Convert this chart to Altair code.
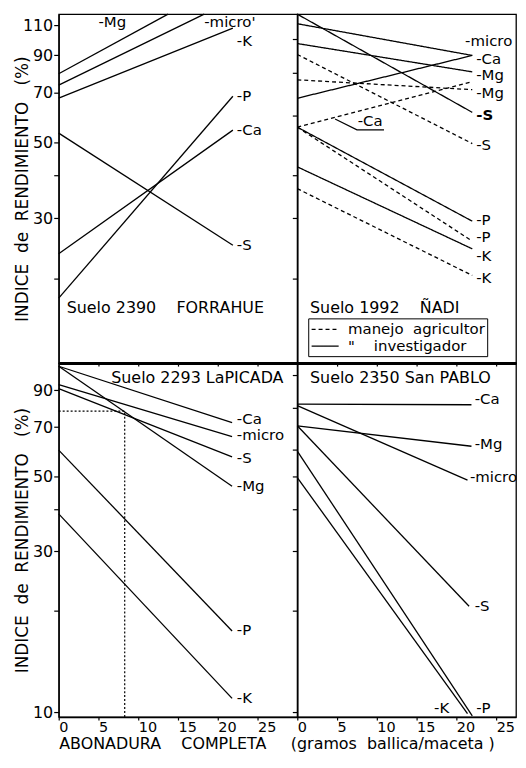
import altair as alt
import pandas as pd

FONT = "DejaVu Sans"
NB = "\u00a0"

# ---------------- Suelo 2390 FORRAHUE (top left) ----------------
f_series = ["Mg", "micro", "K", "P", "Ca", "S"]
f_start = [79.4, 73.5, 67.4, 17.5, 23.6, 53.2]
f_end = [118.6, 118.6, 108.0, 68.2, 54.3, 25.0]     # Mg and micro run off the top edge
f_xend = [13.75, 18.3, 21.9, 21.9, 21.9, 21.9]
f_lab_t = ["-Mg", "-micro'", "-K", "-P", "-Ca", "-S"]
f_lab_x = [5.0, 18.3, 22.4, 22.4, 22.4, 22.4]
f_lab_v = [118, 118, 99, 68.2, 54.3, 25.0]
f_lab_b = ["top", "top", "middle", "middle", "middle", "middle"]

# ---------------- Suelo 1992 ÑADI (top right) ----------------
n_series = ["micro", "Ca", "Mg", "S", "P", "K", "Mg", "S", "Ca", "P", "K"]
n_manejo = ["investigador"] * 6 + ["agricultor"] * 5
n_start = [111.2, 67.3, 97.3, 118.6, 55.4, 42.4, 76.2, 90.4, 55.4, 55.4, 36.6]
n_end = [89.8, 89.8, 80.4, 61.2, 29.4, 24.4, 71.3, 49.6, 75.2, 25.7, 20.4]
n_xend = [22.0] * 11
n_lab_t = ["-micro", "-Ca", "-Mg", "-S", "-P", "-K", "-Mg", "-S", "-Ca", "-P", "-K"]
n_lab_x = [21.1, 22.5, 22.5, 22.5, 22.5, 22.5, 22.5, 22.5, 7.6, 22.5, 22.5]
n_lab_v = [98.8, 87.5, 78.9, 60.0, 29.6, 23.2, 69.9, 49.0, 57.7, 26.4, 20.0]
n_lab_w = ["normal", "normal", "normal", "bold", "normal", "normal",
           "normal", "normal", "normal", "normal", "normal"]
# leader + underline for the dashed Ca label
n_lead_x = [4.75, 7.5, 10.9]
n_lead_v = [58.5, 54.4, 54.4]

# ---------------- Suelo 2293 La PICADA (bottom left) ----------------
p_series = ["Ca", "micro", "S", "Mg", "P", "K"]
p_start = [106.0, 93.5, 91.0, 106.0, 59.8, 38.7]
p_end = [72.1, 65.6, 57.1, 46.7, 17.4, 10.98]
p_xend = [21.8] * 6
p_lab_t = ["-Ca", "-micro", "-S", "-Mg", "-P", "-K"]
p_lab_x = [22.4] * 6
p_lab_v = [74.0, 66.1, 56.7, 46.7, 17.5, 10.98]
# dotted reading guide
p_ref_x = [0, 8.3, 8.3]
p_ref_v = [78.0, 78.0, 9.67]

# ---------------- Suelo 2350 San PABLO (bottom right) ----------------
s_series = ["Ca", "micro", "Mg", "S", "P", "K"]
s_start = [81.9, 81.0, 70.6, 70.6, 59.4, 49.6]
s_end = [81.5, 48.7, 61.4, 20.6, 9.75, 9.9]
s_xend = [21.9, 21.4, 21.9, 21.6, 22.0, 21.4]
s_lab_t = ["-Ca", "-micro", "-Mg", "-S", "-P", "-K"]
s_lab_x = [22.3, 21.7, 22.3, 22.3, 22.5, 17.2]
s_lab_v = [84.7, 49.9, 62.3, 20.6, 10.3, 10.3]

# panel titles
titles = ["Suelo 2390" + NB * 4 + "FORRAHUE", "Suelo 1992" + NB * 4 + "ÑADI",
          "Suelo 2293 LaPICADA", "Suelo 2350 San PABLO"]
title_x = [1.0, 1.6, 6.6, 1.6]
title_v = [16.4, 16.4, 98.0, 98.0]

TOP_DOM = [11.3, 118.6]
BOT_DOM = [9.67, 108.3]
YTICKS_T = [20, 30, 40, 50, 70, 90, 110]
YTICKS_B = [10, 20, 30, 40, 50, 70, 90]
YTICKS_RT = [20, 30, 40, 60, 80, 100]
YTICKS_RB = [10, 20, 30, 40, 50, 60, 80, 100]
XTICKS = [0, 5, 10, 15, 20, 25]

LW, RW = 240, 220
TH, BH = 351, 356


def lines_df(series, manejo, start, end, xend):
    rows = []
    for i, (s, m, a, b, xe) in enumerate(zip(series, manejo, start, end, xend)):
        key = f"{i}_{s}_{m}"
        rows.append(dict(key=key, manejo=m, x=0.0, v=a))
        rows.append(dict(key=key, manejo=m, x=xe, v=b))
    return pd.DataFrame(rows)


def labels_df(t, x, v, w=None, b=None):
    if w is None:
        w = ["normal"] * len(t)
    if b is None:
        b = ["middle"] * len(t)
    return pd.DataFrame(dict(t=t, x=x, v=v, w=w, b=b))


YTITLE = "INDICE" + NB * 2 + "de" + NB * 2 + "RENDIMIENTO" + NB * 3 + "(%)"
AX = dict(domainColor="black", tickColor="black", labelColor="black",
          titleColor="black", labelFont=FONT, titleFont=FONT,
          titleFontWeight="normal", grid=False, tickWidth=1.2)


def panel(ldf, labdf, tdf, xmax, ydom, w, h, left, bottom, yticks, xtitle=None,
          xtitle_x=0, dash=False, extras=()):
    if left:
        yaxis = alt.Axis(values=yticks, title=YTITLE,
                         labelExpr="(datum.value==20||datum.value==40)?'':datum.label",
                         titleX=-27, titleY=h / 2, titleFontSize=17,
                         labelFontSize=16, labelPadding=1, tickSize=5,
                         domainWidth=1.3, **AX)
    else:
        yaxis = alt.Axis(values=yticks, labels=False, title=None, tickSize=5,
                         domainWidth=1.3, **AX)
    if bottom:
        xaxis = alt.Axis(values=XTICKS, title=xtitle, labelAlign="left",
                         labelFontSize=14.5, tickSize=3, labelPadding=1,
                         titleAnchor="start", titleAlign="left", titleBaseline="top",
                         titleX=xtitle_x, titleY=19, titleFontSize=16,
                         domainWidth=1.5, **AX)
    else:
        xaxis = alt.Axis(values=XTICKS[1:], labels=False, title=None, tickSize=3,
                         domainWidth=3, **AX)
    x = alt.X("x:Q", scale=alt.Scale(domain=[0, xmax], nice=False, zero=False), axis=xaxis)
    y = alt.Y("v:Q", scale=alt.Scale(type="log", domain=ydom, nice=False), axis=yaxis)

    enc = dict(x=x, y=y, detail="key:N")
    if dash:
        enc["strokeDash"] = alt.StrokeDash(
            "manejo:N",
            scale=alt.Scale(domain=["agricultor", "investigador"], range=[[4, 3], [1, 0]]),
            legend=alt.Legend(
                orient="none", legendX=11, legendY=306, title=None,
                strokeColor="black", fillColor="white", padding=2,
                symbolType="M-1.7,0H1.7", symbolStrokeColor="black",
                symbolStrokeWidth=1.3, symbolSize=256, symbolOffset=6,
                labelFont=FONT, labelFontSize=15, labelColor="black",
                rowPadding=0, labelOffset=14,
                labelExpr="datum.label=='agricultor' ? 'manejo" + NB * 2 + "agricultor' : '"
                + NB * 4 + "\"" + NB * 4 + "investigador'"))
    lines = alt.Chart(ldf).mark_line(color="black", strokeWidth=1.3).encode(**enc)
    layers = [lines]
    for wt in ["normal", "bold"]:
        for bl_ in ["middle", "top"]:
            if ((labdf["w"] == wt) & (labdf["b"] == bl_)).any():
                layers.append(
                    alt.Chart(labdf).transform_filter(
                        f"datum.w == '{wt}' && datum.b == '{bl_}'").mark_text(
                        align="left", baseline=bl_, font=FONT, fontSize=15,
                        color="black", fontWeight=wt).encode(x=x, y=y, text="t:N"))
    tit = alt.Chart(tdf).mark_text(align="left", baseline="middle", font=FONT,
                                   fontSize=16, color="black").encode(x=x, y=y, text="t:N")
    layers.append(tit)
    for e in extras:
        layers.append(e(x, y))
    return alt.layer(*layers).properties(width=w, height=h)


# build data
f_l = lines_df(f_series, ["investigador"] * 6, f_start, f_end, f_xend)
n_l = lines_df(n_series, n_manejo, n_start, n_end, n_xend)
p_l = lines_df(p_series, ["investigador"] * 6, p_start, p_end, p_xend)
s_l = lines_df(s_series, ["investigador"] * 6, s_start, s_end, s_xend)


def tdf(i):
    return pd.DataFrame(dict(t=[titles[i]], x=[title_x[i]], v=[title_v[i]]))


lead_df = pd.DataFrame(dict(x=n_lead_x, v=n_lead_v, o=list(range(3))))
ref_df = pd.DataFrame(dict(x=p_ref_x, v=p_ref_v, o=list(range(3))))


def lead_layer(x, y):
    return alt.Chart(lead_df).mark_line(color="black", strokeWidth=1.2).encode(
        x=x, y=y, order="o:Q")


def ref_layer(x, y):
    return alt.Chart(ref_df).mark_line(color="black", strokeWidth=1.2,
                                       strokeDash=[2, 2]).encode(x=x, y=y, order="o:Q")


tl = panel(f_l, labels_df(f_lab_t, f_lab_x, f_lab_v, b=f_lab_b), tdf(0), 30, TOP_DOM, LW, TH,
           left=True, bottom=False, yticks=YTICKS_T)
tr = panel(n_l, labels_df(n_lab_t, n_lab_x, n_lab_v, n_lab_w), tdf(1), 27.5, TOP_DOM, RW, TH,
           left=False, bottom=False, yticks=YTICKS_RT, dash=True, extras=[lead_layer])
bl = panel(p_l, labels_df(p_lab_t, p_lab_x, p_lab_v), tdf(2), 30, BOT_DOM, LW, BH,
           left=True, bottom=True, yticks=YTICKS_B,
           xtitle="ABONADURA" + NB * 4 + "COMPLETA", extras=[ref_layer])
br = panel(s_l, labels_df(s_lab_t, s_lab_x, s_lab_v), tdf(3), 27.5, BOT_DOM, RW, BH,
           left=False, bottom=True, yticks=YTICKS_RB,
           xtitle="(gramos" + NB * 2 + "ballica/maceta" + NB + ")", xtitle_x=-7)

chart = alt.concat(tl, tr, bl, br, columns=2, spacing=0, bounds="flush").resolve_legend(
    strokeDash="independent").properties(
    padding={"left": 5, "top": 0, "right": 0, "bottom": 0}, background="white"
).configure_view(stroke="black", strokeWidth=1.3)

chart.save("out.html", embed_options={"renderer": "svg", "actions": False})
